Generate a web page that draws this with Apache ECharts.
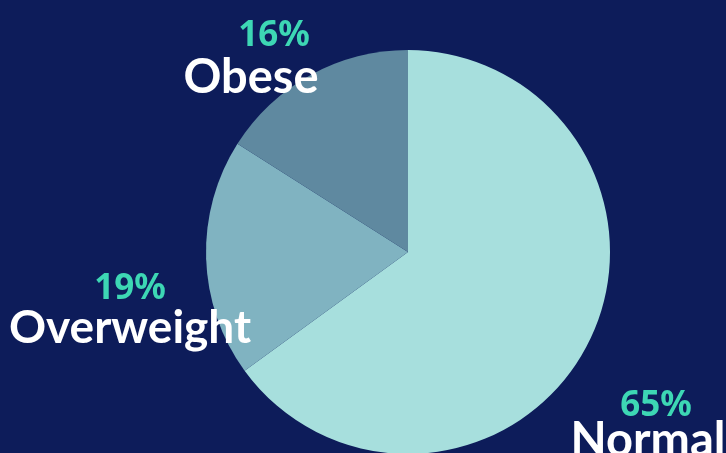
<!DOCTYPE html>
<html>
<head>
<meta charset="utf-8">
<script src="https://cdn.jsdelivr.net/npm/echarts@6/dist/echarts.min.js"></script>
<style>
html,body{margin:0;padding:0;background:#0d1c5a;}
#c{width:726px;height:453px;}
</style>
</head>
<body>
<div id="c"></div>
<script>
const categories = ['Normal', 'Overweight', 'Obese'];
const values = [65, 19, 16];

const colors = ['#a7dfdd', '#80b3c1', '#5f89a0'];
// label placement (style config)
const labelPos = [
  { x: 648, y: 428, pctDx: 8, gap: 25, nameSize: 47 },
  { x: 130, y: 311, pctDx: 0, gap: 34, nameSize: 46 },
  { x: 251, y: 58, pctDx: 23, gap: 40, nameSize: 47 }
];

const chart = echarts.init(document.getElementById('c'));
chart.setOption({
  backgroundColor: '#0d1c5a',
  animation: false,
  series: [{
    type: 'pie',
    center: [408, 252],
    radius: 202,
    startAngle: 90,
    clockwise: true,
    avoidLabelOverlap: false,
    label: {
      show: true,
      position: 'outside',
      overflow: 'none'
    },
    labelLine: { show: false },
    labelLayout: function (p) {
      const lp = labelPos[p.dataIndex];
      return { x: lp.x, y: lp.y, align: 'center', verticalAlign: 'middle', hideOverlap: false };
    },
    data: categories.map(function (name, i) {
      const lp = labelPos[i];
      return {
        name: name,
        value: values[i],
        itemStyle: { color: colors[i] },
        label: {
          formatter: '{p|{d}%}\n{n|{b}}',
          overflow: 'none',
          rich: {
            p: {
              color: '#3dd7b4',
              fontFamily: 'Noto Sans',
              fontWeight: 'bold',
              fontSize: 35,
              lineHeight: lp.gap,
              align: 'center',
              padding: [0, 0, 0, lp.pctDx * 2]
            },
            n: {
              color: '#ffffff',
              fontFamily: 'Lato',
              fontWeight: 'bold',
              fontSize: lp.nameSize,
              lineHeight: 44,
              align: 'center'
            }
          }
        }
      };
    })
  }]
});
</script>
</body>
</html>
